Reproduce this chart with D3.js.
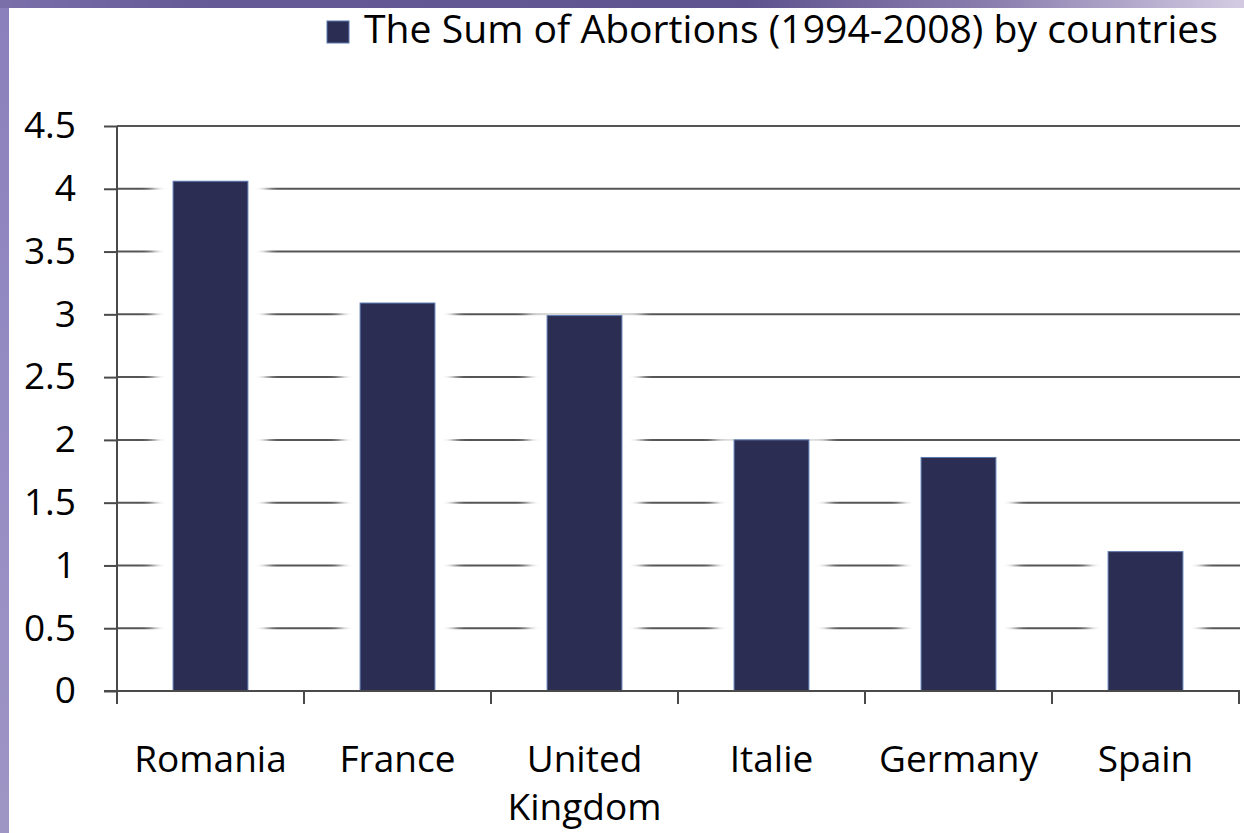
<!DOCTYPE html>
<html>
<head>
<meta charset="utf-8">
<script src="https://cdn.jsdelivr.net/npm/d3@7"></script>
<style>
html,body{margin:0;padding:0;background:#fff;}
svg{display:block;}
</style>
</head>
<body>
<svg id="chart" width="1244" height="833"></svg>
<script>
const categories = ["Romania", "France", "United Kingdom", "Italie", "Germany", "Spain"];
const values = [4.06, 3.09, 2.99, 2.0, 1.86, 1.11];
const yTicks = [0, 0.5, 1, 1.5, 2, 2.5, 3, 3.5, 4, 4.5];
const seriesName = "The Sum of Abortions (1994-2008) by countries";

const svg = d3.select("#chart");
const W = 1244, H = 833;
const defs = svg.append("defs");

const gTop = defs.append("linearGradient").attr("id", "topband").attr("x1", 0).attr("x2", 1).attr("y1", 0).attr("y2", 0);
gTop.append("stop").attr("offset", "0%").attr("stop-color", "#7b70aa");
gTop.append("stop").attr("offset", "15%").attr("stop-color", "#665b97");
gTop.append("stop").attr("offset", "60%").attr("stop-color", "#5f538f");
gTop.append("stop").attr("offset", "80%").attr("stop-color", "#8a7fae");
gTop.append("stop").attr("offset", "100%").attr("stop-color", "#d4cbe3");

const gLeft = defs.append("linearGradient").attr("id", "leftband").attr("x1", 0).attr("x2", 0).attr("y1", 0).attr("y2", 1);
gLeft.append("stop").attr("offset", "0%").attr("stop-color", "#8a7fba");
gLeft.append("stop").attr("offset", "50%").attr("stop-color", "#968cc4");
gLeft.append("stop").attr("offset", "100%").attr("stop-color", "#9e95c4");

const blur = defs.append("filter").attr("id", "glow").attr("x", "-50%").attr("y", "-10%").attr("width", "200%").attr("height", "120%");
blur.append("feGaussianBlur").attr("stdDeviation", 6);

svg.append("rect").attr("x", 0).attr("y", 0).attr("width", W).attr("height", H).attr("fill", "#fff");
svg.append("rect").attr("x", 0).attr("y", 0).attr("width", 9).attr("height", H).attr("fill", "url(#leftband)");
svg.append("rect").attr("x", 0).attr("y", 0).attr("width", W).attr("height", 8).attr("fill", "url(#topband)");

const x0 = 117, x1 = 1239, yBase = 691, yTop = 126;
const x = d3.scaleBand().domain(categories).range([x0, x1]).paddingInner(0.6).paddingOuter(0.3);
const y = d3.scaleLinear().domain([0, 4.5]).range([yBase, yTop]);

const font = "'Open Sans', 'Noto Sans', sans-serif";
const axisColor = "#4a4a4a";

// gridlines
svg.append("g").selectAll("line").data(yTicks.filter(d => d > 0)).join("line")
  .attr("x1", x0).attr("x2", x1 + 1)
  .attr("y1", d => y(d)).attr("y2", d => y(d))
  .attr("stroke", "#555").attr("stroke-width", 2);

// white glow behind bars
svg.append("g").selectAll("rect").data(categories).join("rect")
  .attr("x", d => x(d) - 20)
  .attr("width", x.bandwidth() + 40)
  .attr("y", (d, i) => y(values[i]) - 5)
  .attr("height", (d, i) => yBase - y(values[i]) + 2)
  .attr("fill", "#fff")
  .attr("filter", "url(#glow)");

// bars
svg.append("g").selectAll("rect").data(categories).join("rect")
  .attr("x", d => x(d))
  .attr("width", x.bandwidth())
  .attr("y", (d, i) => y(values[i]))
  .attr("height", (d, i) => yBase - y(values[i]))
  .attr("fill", "#2b2d52")
  .attr("stroke", "#5a78b0")
  .attr("stroke-width", 1);

// y axis
const yAxis = d3.axisLeft(y).tickValues(yTicks).tickSize(13).tickPadding(28)
  .tickFormat(d3.format("~g"));
const gy = svg.append("g").attr("transform", `translate(${x0},0)`).call(yAxis);
gy.select(".domain").attr("stroke", axisColor).attr("stroke-width", 2).attr("d", `M0,${yTop}V${yBase + 13}`);
gy.selectAll(".tick line").attr("stroke", axisColor).attr("stroke-width", 2);
gy.selectAll(".tick text").attr("font-family", font).attr("font-size", 37).attr("fill", "#000");

// x axis
const boundaries = d3.range(categories.length + 1).map(i => x0 + i * x.step());
const gx = svg.append("g");
gx.append("line").attr("x1", x0 - 13).attr("x2", x1 + 1).attr("y1", yBase).attr("y2", yBase)
  .attr("stroke", axisColor).attr("stroke-width", 2);
gx.selectAll("line.tk").data(boundaries).join("line").attr("class", "tk")
  .attr("x1", d => d).attr("x2", d => d).attr("y1", yBase).attr("y2", yBase + 13)
  .attr("stroke", axisColor).attr("stroke-width", 2);

const labels = gx.selectAll("text").data(categories).join("text")
  .attr("x", d => x(d) + x.bandwidth() / 2)
  .attr("y", 772)
  .attr("text-anchor", "middle")
  .attr("font-family", font).attr("font-size", 37).attr("fill", "#000");
labels.each(function(d) {
  const words = d.split(" ");
  const t = d3.select(this);
  words.forEach((w, i) => {
    t.append("tspan").attr("x", x(d) + x.bandwidth() / 2).attr("dy", i === 0 ? 0 : 48).text(w);
  });
});

// legend
svg.append("rect").attr("x", 327).attr("y", 21).attr("width", 22).attr("height", 22)
  .attr("fill", "#2b2d52").attr("stroke", "#5a78b0").attr("stroke-width", 1);
svg.append("text").attr("x", 364).attr("y", 43)
  .attr("font-family", font).attr("font-size", 38).attr("fill", "#000")
  .attr("textLength", 854).attr("lengthAdjust", "spacingAndGlyphs")
  .text(seriesName);
</script>
</body>
</html>
